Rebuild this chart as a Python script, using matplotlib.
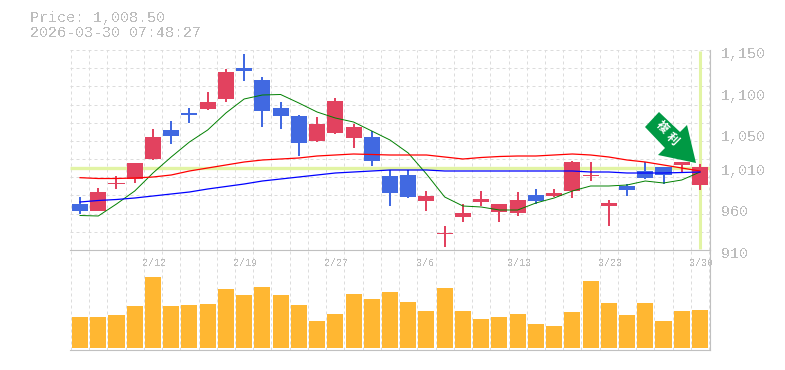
"""Daily candlestick chart with moving averages and a volume panel."""

from __future__ import annotations

import matplotlib

matplotlib.use("Agg")
import matplotlib.pyplot as plt
from matplotlib.patches import Polygon, Rectangle
from matplotlib.transforms import IdentityTransform

WIDTH, HEIGHT = 785, 370
UP_COLOR = "#e2425f"
DOWN_COLOR = "#4169e1"
VOLUME_COLOR = "#ffb732"
GRID_COLOR = "#dcdcdc"
FRAME_COLOR = "#c0c0c0"
TEXT_COLOR = "#bdbdbd"
MARK_COLOR = "#e2f4a4"
ARROW_COLOR = "#009944"

price_opens = [
    965.2, 956.8, 989.2, 995.2, 1019.2, 1054.0, 1074.4, 1079.2, 1091.2, 1128.4,
    1114.0, 1080.4, 1070.8, 1040.8, 1050.4, 1044.4, 1045.6, 998.8, 1000.0, 968.8,
    929.2, 949.6, 967.6, 955.6, 954.4, 976.0, 974.8, 980.8, 998.8, 962.8,
    986.8, 1004.8, 1009.6, 1012.0, 988.0,
]
price_closes = [
    956.8, 979.6, 990.4, 1014.4, 1045.6, 1046.8, 1072.0, 1087.6, 1123.6, 1124.8,
    1076.8, 1070.8, 1038.4, 1061.2, 1088.8, 1057.6, 1016.8, 978.4, 973.6, 974.8,
    930.4, 954.4, 971.2, 965.2, 970.0, 968.8, 978.4, 1015.6, 1000.0, 966.4,
    982.0, 996.4, 1000.0, 1015.6, 1009.6,
]
price_highs = [
    973.6, 984.4, 998.8, 1014.4, 1055.2, 1064.8, 1080.4, 1099.6, 1127.2, 1145.2,
    1117.6, 1087.6, 1072.0, 1069.6, 1092.4, 1061.2, 1052.8, 1006.0, 1006.0, 980.8,
    938.8, 965.2, 980.8, 965.2, 979.6, 983.2, 983.2, 1016.8, 1015.6, 970.0,
    989.2, 1015.6, 1009.6, 1015.6, 1013.2,
]
price_lows = [
    953.2, 956.8, 983.2, 990.4, 1018.0, 1037.2, 1062.4, 1078.0, 1087.6, 1112.8,
    1057.6, 1055.2, 1022.8, 1039.6, 1049.2, 1032.4, 1010.8, 962.8, 972.4, 956.8,
    913.6, 943.6, 962.8, 943.6, 950.8, 965.2, 973.6, 972.4, 992.8, 938.8,
    974.8, 995.2, 989.2, 1003.6, 982.0,
]
ma_short = [
    951.4, 950.8, 965.2, 980.8, 1002.4, 1021.6, 1039.6, 1054.0, 1074.4, 1091.2,
    1096.0, 1096.6, 1086.4, 1075.6, 1068.4, 1063.6, 1052.8, 1042.0, 1026.4, 1001.2,
    973.6, 962.8, 961.6, 958.0, 958.0, 966.4, 972.4, 980.8, 986.8, 986.8,
    988.0, 992.8, 990.4, 994.0, 1003.6,
]
ma_mid = [
    996.8, 995.8, 995.8, 996.4, 997.6, 1000.0, 1004.8, 1008.4, 1012.0, 1015.6,
    1018.0, 1019.2, 1020.4, 1022.8, 1024.0, 1025.2, 1024.6, 1024.0, 1024.0, 1024.0,
    1021.6, 1019.2, 1021.0, 1022.2, 1022.8, 1022.8, 1024.0, 1025.2, 1024.0, 1021.6,
    1018.0, 1015.6, 1012.0, 1008.4, 1004.8,
]
ma_long = [
    967.6, 969.4, 970.6, 972.4, 974.8, 977.2, 979.6, 983.2, 986.2, 989.2,
    992.8, 995.2, 997.6, 1000.0, 1002.4, 1003.6, 1004.8, 1006.0, 1006.0, 1006.0,
    1004.8, 1004.8, 1004.8, 1004.8, 1004.8, 1004.8, 1004.8, 1004.8, 1003.6, 1003.6,
    1002.4, 1002.4, 1002.4, 1003.0, 1003.6,
]
volumes = [
    31, 31, 33, 42, 71, 42, 43, 44, 59, 53,
    61, 53, 43, 27, 34, 54, 49, 56, 46, 37,
    60, 37, 29, 31, 34, 24, 22, 36, 67, 45,
    33, 45, 27, 37, 38,
]
date_positions = [4, 9, 14, 19, 24, 29, 34]
date_labels = ["2/12", "2/19", "2/27", "3/6", "3/13", "3/23", "3/30"]
price_label_values = [1150, 1100, 1050, 1010, 960, 910]
price_labels = ["1,150", "1,100", "1,050", "1,010", "960", "910"]
last_price = 1008.5


def axes_box(left: float, top: float, right: float, bottom: float) -> list[float]:
    return [left / WIDTH, 1 - bottom / HEIGHT, (right - left) / WIDTH, (bottom - top) / HEIGHT]


def style_grid(ax) -> None:
    ax.set_xticks([i - 0.5 for i in range(len(volumes) + 1)])
    ax.tick_params(left=False, bottom=False, labelleft=False, labelbottom=False)
    ax.grid(True, color=GRID_COLOR, linewidth=0.72, linestyle=(0, (3, 3)))
    ax.set_axisbelow(True)
    ax.spines["top"].set_visible(False)
    ax.spines["left"].set_visible(False)
    for side in ("right", "bottom"):
        ax.spines[side].set_color(FRAME_COLOR)
        ax.spines[side].set_linewidth(0.8)


def draw_candles(ax) -> None:
    for i, (o, c, h, l) in enumerate(zip(price_opens, price_closes, price_highs, price_lows)):
        color = UP_COLOR if c >= o else DOWN_COLOR
        ax.plot([i, i], [l, h], color=color, linewidth=0.3, zorder=4, antialiased=False,
                solid_capstyle="butt")
        ax.add_patch(Rectangle((i - 0.44, min(o, c)), 0.88, abs(c - o), facecolor=color,
                               edgecolor="none", zorder=4))


def main() -> None:
    plt.rcParams["font.family"] = ["Liberation Mono", "DejaVu Sans Mono"]
    plt.rcParams["text.antialiased"] = False
    fig = plt.figure(figsize=(WIDTH / 100, HEIGHT / 100), dpi=100)
    x_range = (-0.55, len(volumes) - 0.45)

    ax = fig.add_axes(axes_box(70, 50, 710, 250))
    ax.set_xlim(x_range)
    ax.set_ylim(910, 1150)
    ax.set_yticks([910 + 240 * i / 11 for i in range(12)])
    style_grid(ax)

    ax.axhline(last_price, color=MARK_COLOR, linewidth=2.4, zorder=2, solid_capstyle="butt")
    ax.plot([len(volumes) - 1] * 2, [911, 1149], color=MARK_COLOR, linewidth=2.2, zorder=2,
            solid_capstyle="butt")
    draw_candles(ax)
    days = range(len(volumes))
    ax.plot(days, ma_short, color="#008000", linewidth=0.7, zorder=5)
    ax.plot(days, ma_mid, color="#ff0000", linewidth=0.9, zorder=5)
    ax.plot(days, ma_long, color="#0000ff", linewidth=0.9, zorder=5)

    vol_ax = fig.add_axes(axes_box(70, 250, 710, 350))
    vol_ax.set_xlim(x_range)
    vol_ax.set_ylim(-2, 98)
    vol_ax.set_yticks([])
    style_grid(vol_ax)
    vol_ax.patch.set_alpha(0)
    vol_ax.bar(days, volumes, width=0.88, color=VOLUME_COLOR, zorder=3)
    for pos, label in zip(date_positions, date_labels):
        vol_ax.text(pos - 0.58, 85.5, label, fontsize=7.2, color=TEXT_COLOR, ha="left", va="center")

    for value, label in zip(price_label_values, price_labels):
        ax.annotate(label, (1, value), xycoords=ax.get_yaxis_transform(), xytext=(11, -4),
                    textcoords="offset pixels", fontsize=10.8, color=TEXT_COLOR,
                    ha="left", va="center", annotation_clip=False)

    fig.text(30 / WIDTH, 1 - 18 / HEIGHT, f"Price: {1008.50:,.2f}", fontsize=10.8,
             color=TEXT_COLOR, ha="left", va="center")
    fig.text(30 / WIDTH, 1 - 33 / HEIGHT, "2026-03-30 07:48:27", fontsize=10.8,
             color=TEXT_COLOR, ha="left", va="center")

    # Signal arrow, placed in image pixels (y flipped for the figure canvas)
    arrow_px = [(645, 127), (659, 112), (680, 132), (687, 125), (696, 163), (658, 155), (665, 148)]
    fig.add_artist(Polygon([(x, HEIGHT - y) for x, y in arrow_px], closed=True,
                           facecolor=ARROW_COLOR, edgecolor="none",
                           transform=IdentityTransform(), zorder=8))
    for char, cx, cy in (("複", 662, 127), ("利", 672, 139)):
        fig.text(cx / WIDTH, 1 - cy / HEIGHT, char, fontsize=8.6, color="white", weight="bold",
                 family=["Noto Sans CJK JP", "DejaVu Sans"], rotation=-45,
                 rotation_mode="anchor", ha="center", va="center", zorder=9, antialiased=True)

    fig.savefig("out.png", dpi=100)
    plt.close(fig)


if __name__ == "__main__":
    main()
